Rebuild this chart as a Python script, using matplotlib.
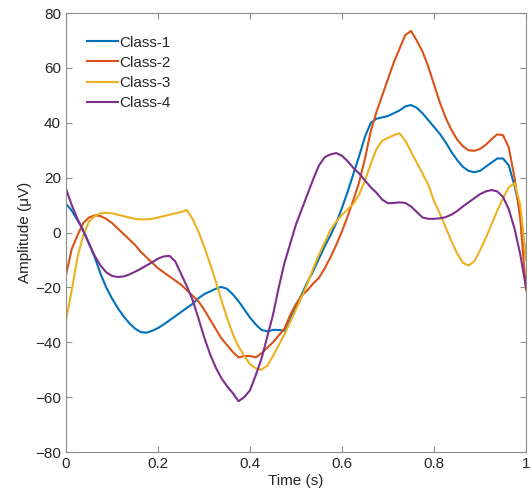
import matplotlib
matplotlib.use("Agg")
import matplotlib.pyplot as plt

plt.rcParams['font.family'] = ['Liberation Sans', 'DejaVu Sans']

# time axis (s), sampled every 0.0125 s
time = [i * 0.0125 for i in range(81)]

class1 = [10.5, 8, 4.5, 1, -4, -9, -15, -20, -24, -27.5,
          -30.5, -33, -35, -36.3, -36.5, -35.8, -34.8, -33.5, -32, -30.5,
          -29, -27.5, -26, -24, -22.5, -21.5, -20.5, -19.8, -20.5, -22.5,
          -25, -28, -31, -33.5, -35.5, -36, -35.5, -35.5, -35.8, -31.5,
          -27, -22.5, -18, -14, -9.5, -5, -1, 3.5, 9, 15,
          21.5, 28, 35, 40, 41.5, 42, 42.5, 43.5, 44.5, 46,
          46.5, 45.5, 43.5, 41, 38.5, 36, 33, 29.5, 26.5, 24,
          22.5, 22, 22.5, 24, 25.5, 27, 27, 24.5, 17, 8, -10]
class2 = [-15.5, -6, -1, 3.5, 5.5, 6.3, 6, 5, 3.5, 1.5,
          -0.5, -2.5, -4.5, -7, -9, -11, -13, -14.5, -16, -17.5,
          -19, -21, -23, -25, -28, -31.5, -35, -38.5, -41, -43.5,
          -45.5, -45, -45, -45.5, -44, -42, -40, -37.5, -35, -30,
          -26, -23, -21, -18.5, -16.5, -13, -9, -4.5, 0.5, 6,
          12, 18.5, 27, 37, 44, 50, 56, 62, 67, 72,
          73.5, 70, 66, 60.5, 54, 47.5, 42, 37.5, 34, 31.5,
          30, 29.8, 30.5, 32, 34, 35.8, 35.5, 31, 20, 5, -21]
class3 = [-32, -21, -9, -1, 4, 6, 7, 7.2, 7, 6.5,
          6, 5.5, 5, 4.8, 4.8, 5, 5.5, 6, 6.5, 7,
          7.5, 8.2, 5, 0.5, -5, -11, -17.5, -24.5, -31, -37,
          -41.5, -45, -48, -49.5, -50, -48.5, -45, -41, -37, -32.5,
          -28, -23.5, -18.5, -13, -8, -3.5, 1, 4, 6.5, 8.5,
          10.5, 14, 19, 25, 30.5, 33.5, 34.5, 35.5, 36.2, 33.5,
          29.5, 25.5, 21.5, 17.5, 11.5, 7, 2, -3, -7.5, -11,
          -12, -10.5, -6.5, -2, 3, 8, 12.5, 16.5, 18, 10, -10]
class4 = [16, 10, 5, 0.5, -4, -8.5, -12, -14.5, -15.8, -16.2,
          -16, -15.3, -14.3, -13.2, -12, -10.8, -9.5, -8.7, -8.5, -10.5,
          -15, -19.5, -24.5, -31, -38, -44, -49, -53, -56, -58.5,
          -61.5, -60, -57.5, -52, -46, -38, -30, -20, -11, -4,
          3, 8.5, 14, 19.5, 24.5, 27.5, 28.5, 29, 28, 26,
          23.5, 21.5, 19, 16.5, 14.5, 12, 10.7, 10.8, 11, 10.8,
          9.5, 7.5, 5.5, 5, 5, 5.2, 5.6, 6.5, 7.8, 9.5,
          11, 12.5, 14, 15, 15.5, 15, 13, 8.5, 1.5, -8, -20]

series = [class1, class2, class3, class4]
labels = ['Class-1', 'Class-2', 'Class-3', 'Class-4']
colors = ['#0072BD', '#D95319', '#EDB120', '#7E2F8E']

xticks = [0, 0.2, 0.4, 0.6, 0.8, 1]
xticklabels = ['0', '0.2', '0.4', '0.6', '0.8', '1']
yticks = [-80, -60, -40, -20, 0, 20, 40, 60, 80]

fig = plt.figure(figsize=(5.30, 5.01), dpi=100)
ax = fig.add_axes([0.1245, 0.0978, 0.868, 0.876])

for y, lab, c in zip(series, labels, colors):
    ax.plot(time, y, color=c, lw=1.5, label=lab)

ax.set_xlim(0, 1)
ax.set_ylim(-80, 80)
ax.set_xticks(xticks)
ax.set_xticklabels(xticklabels)
ax.set_yticks(yticks)

gray = '#262626'
for s in ax.spines.values():
    s.set_color('#8c8c8c')
    s.set_linewidth(0.8)
ax.tick_params(direction='in', length=4, width=0.8, color='#8c8c8c',
               labelcolor=gray, labelsize=11, top=True, right=True)

ax.set_xlabel('Time (s)', fontsize=11, color=gray, labelpad=2)
ax.set_ylabel('Amplitude (μV)', fontsize=11, color=gray, labelpad=2)

leg = ax.legend(loc='upper left', bbox_to_anchor=(0.016, 0.98), frameon=False,
                fontsize=11, handlelength=2.0, handletextpad=0.12, labelspacing=0.4)
for t in leg.get_texts():
    t.set_color(gray)

fig.savefig('out.png', dpi=100)
